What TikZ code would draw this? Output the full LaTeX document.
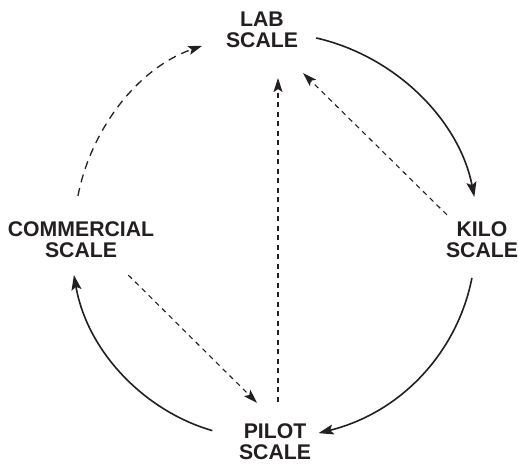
\documentclass[tikz,border=0pt]{standalone}
\usepackage{fontspec}
\setmainfont{Liberation Sans}
\usetikzlibrary{arrows.meta}
\definecolor{ink}{HTML}{231F20}

\tikzset{
  stage/.style={align=center, inner sep=0pt, font=\bfseries\fontsize{21.3}{21}\selectfont},
  flow/.style={line width=1.6bp, -{Stealth[length=15bp, width=10bp, inset=3bp]}},
  loopback/.style={line width=1.3bp, dash pattern=on 8bp off 6bp, -{Stealth[length=14bp, width=9bp, inset=3bp]}},
  skip/.style={line width=1.1bp, dash pattern=on 5bp off 4.5bp, -{Stealth[length=14bp, width=9bp, inset=3bp]}},
}

\begin{document}
\begin{tikzpicture}[x=1bp, y=1bp, color=ink]
	\useasboundingbox (0,0) rectangle (518,464);
	\begin{scope}
		\node[stage] (lab) at (262,434) {LAB\\SCALE};
		\node[stage] (kilo) at (482,224) {KILO\\SCALE};
		\node[stage] (pilot) at (275,22) {PILOT\\SCALE};
		\node[stage] (comm) at (81,224) {COMMERCIAL\\SCALE};
	\end{scope}
	% the scale-up cycle
	\draw[flow, shorten <=18.6bp, shorten >=25.3bp] (lab.-6) to[out=-13, in=101] (kilo.99);
	\draw[flow, shorten <=20.1bp, shorten >=7.6bp] (kilo.-109) to[out=-101, in=14] (pilot.11);
	\draw[flow, shorten <=27.6bp, shorten >=17.1bp] (pilot.174) to[out=164, in=-80] (comm.-119);
	\draw[loopback, shorten <=26.4bp, shorten >=25.1bp] (comm.114) to[out=79, in=-161] (lab.-168);
	% short cuts
	\begin{scope}[skip]
		\draw[shorten <=22bp, shorten >=30bp] ([xshift=3bp]pilot.north) -- ([xshift=3bp]pilot.north |- lab.south);
		\draw[shorten <=10bp, shorten >=35.6bp] (kilo.147) -- (lab.-49);
		\draw[shorten <=24.1bp, shorten >=29.8bp] (comm.-31) -- (pilot.80);
	\end{scope}
\end{tikzpicture}
\end{document}
